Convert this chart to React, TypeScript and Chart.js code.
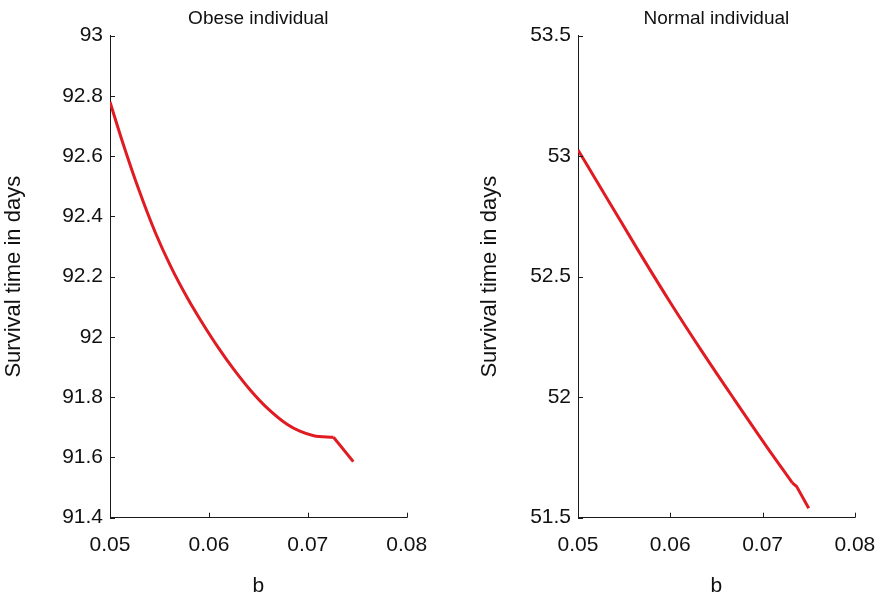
import React, { useEffect, useRef } from "react";
import { Chart, registerables } from "chart.js";

Chart.register(...registerables);

// Obese individual
const obeseB = [0.05, 0.0512, 0.0529, 0.0546, 0.0562, 0.0579, 0.0591, 0.061, 0.0625, 0.0642, 0.0658, 0.0679, 0.0692, 0.0706, 0.0726, 0.0746];
const obeseDays = [92.78, 92.654, 92.49, 92.345, 92.23, 92.125, 92.059, 91.962, 91.893, 91.823, 91.767, 91.71, 91.687, 91.672, 91.667, 91.586];
const obeseKink = 14; // index where the smooth curve ends

// Normal individual
const normalB = [0.05, 0.0531, 0.0566, 0.06, 0.0635, 0.067, 0.0704, 0.0732, 0.0737, 0.075];
const normalDays = [53.026, 52.828, 52.604, 52.393, 52.186, 51.987, 51.797, 51.646, 51.629, 51.539];
const normalKink = 7;

const titles = ["Obese individual", "Normal individual"];
const xTitle = "b";
const yTitle = "Survival time in days";

const FONT = "'Liberation Sans', Arial, Helvetica, sans-serif";
const RED = "#e01b22";
const AXIS = "#1a1a1a";
const TEXT = "#111";

const innerTicks = {
  id: "innerTicks",
  afterDraw(chart: any) {
    const { ctx, scales, chartArea } = chart;
    const x = scales.x;
    const y = scales.y;
    ctx.save();
    ctx.strokeStyle = AXIS;
    ctx.lineWidth = 1;
    x.ticks.forEach((t: any) => {
      const px = Math.round(x.getPixelForValue(t.value)) + 0.5;
      ctx.beginPath();
      ctx.moveTo(px, chartArea.bottom);
      ctx.lineTo(px, chartArea.bottom - 5);
      ctx.stroke();
    });
    y.ticks.forEach((t: any) => {
      const py = Math.round(y.getPixelForValue(t.value)) + 0.5;
      ctx.beginPath();
      ctx.moveTo(chartArea.left, py);
      ctx.lineTo(chartArea.left + 5, py);
      ctx.stroke();
    });
    ctx.restore();
  },
};

const fmt = (v: any) => String(parseFloat(Number(v).toFixed(3)));

const pts = (xs: number[], ys: number[]) => xs.map((x, i) => ({ x, y: ys[i] }));

function lineDs(data: any[], smooth: boolean): any {
  return {
    data,
    borderColor: RED,
    borderWidth: 3,
    pointRadius: 0,
    tension: smooth ? 0.4 : 0,
    cubicInterpolationMode: smooth ? "monotone" : "default",
    borderJoinStyle: "round",
    borderCapStyle: "butt",
    fill: false,
  };
}

function splitAt(xs: number[], ys: number[], k: number): any[] {
  return [
    lineDs(pts(xs.slice(0, k + 1), ys.slice(0, k + 1)), true),
    lineDs(pts(xs.slice(k), ys.slice(k)), false),
  ];
}

function makeConfig(
  title: string,
  datasets: any[],
  yMin: number,
  yMax: number,
  yStep: number,
  padLeft: number,
  padRight: number,
  yAxisWidth: number
): any {
  return {
    type: "line",
    data: { datasets },
    options: {
      animation: false,
      responsive: false,
      layout: { padding: { left: padLeft, right: padRight, top: 0, bottom: 0 } },
      plugins: {
        legend: { display: false },
        tooltip: { enabled: false },
        title: {
          display: true,
          text: title,
          fullSize: false,
          color: TEXT,
          font: { family: FONT, size: 19, weight: "normal" },
          padding: { top: 7.6, bottom: 5.3 },
        },
      },
      scales: {
        x: {
          type: "linear",
          min: 0.05,
          max: 0.08,
          grid: { display: false, drawTicks: false },
          border: { display: true, color: AXIS, width: 1 },
          ticks: {
            stepSize: 0.01,
            padding: 14.7,
            color: TEXT,
            font: { family: FONT, size: 21 },
            callback: fmt,
            maxRotation: 0,
          },
          title: {
            display: true,
            text: xTitle,
            color: TEXT,
            padding: 1,
            font: { family: FONT, size: 21 },
          },
          afterFit: (s: any) => {
            s.height = 82.3;
          },
        },
        y: {
          type: "linear",
          min: yMin,
          max: yMax,
          grid: { display: false, drawTicks: false },
          border: { display: true, color: AXIS, width: 1 },
          ticks: {
            stepSize: yStep,
            padding: 7,
            color: TEXT,
            font: { family: FONT, size: 21 },
            callback: fmt,
          },
          title: {
            display: true,
            text: yTitle,
            color: TEXT,
            padding: 1,
            font: { family: FONT, size: 22 },
          },
          afterFit: (s: any) => {
            s.width = yAxisWidth;
          },
        },
      },
    },
    plugins: [innerTicks],
  };
}

export default function App() {
  const leftRef = useRef<HTMLCanvasElement>(null);
  const rightRef = useRef<HTMLCanvasElement>(null);

  useEffect(() => {
    const c1 = new Chart(
      leftRef.current as HTMLCanvasElement,
      makeConfig(titles[0], splitAt(obeseB, obeseDays, obeseKink), 91.4, 93, 0.2, 0, 38.3, 110)
    );
    const c2 = new Chart(
      rightRef.current as HTMLCanvasElement,
      makeConfig(titles[1], splitAt(normalB, normalDays, normalKink), 51.5, 53.5, 0.5, 31, 22.3, 102)
    );
    return () => {
      c1.destroy();
      c2.destroy();
    };
  }, []);

  return (
    <div
      style={{
        position: "fixed",
        left: 0,
        top: 0,
        width: 890,
        height: 600,
        background: "#fff",
      }}
    >
      <canvas
        ref={leftRef}
        width={445}
        height={600}
        style={{ position: "absolute", left: 0, top: 0, width: 445, height: 600 }}
      />
      <canvas
        ref={rightRef}
        width={445}
        height={600}
        style={{ position: "absolute", left: 445, top: 0, width: 445, height: 600 }}
      />
    </div>
  );
}
